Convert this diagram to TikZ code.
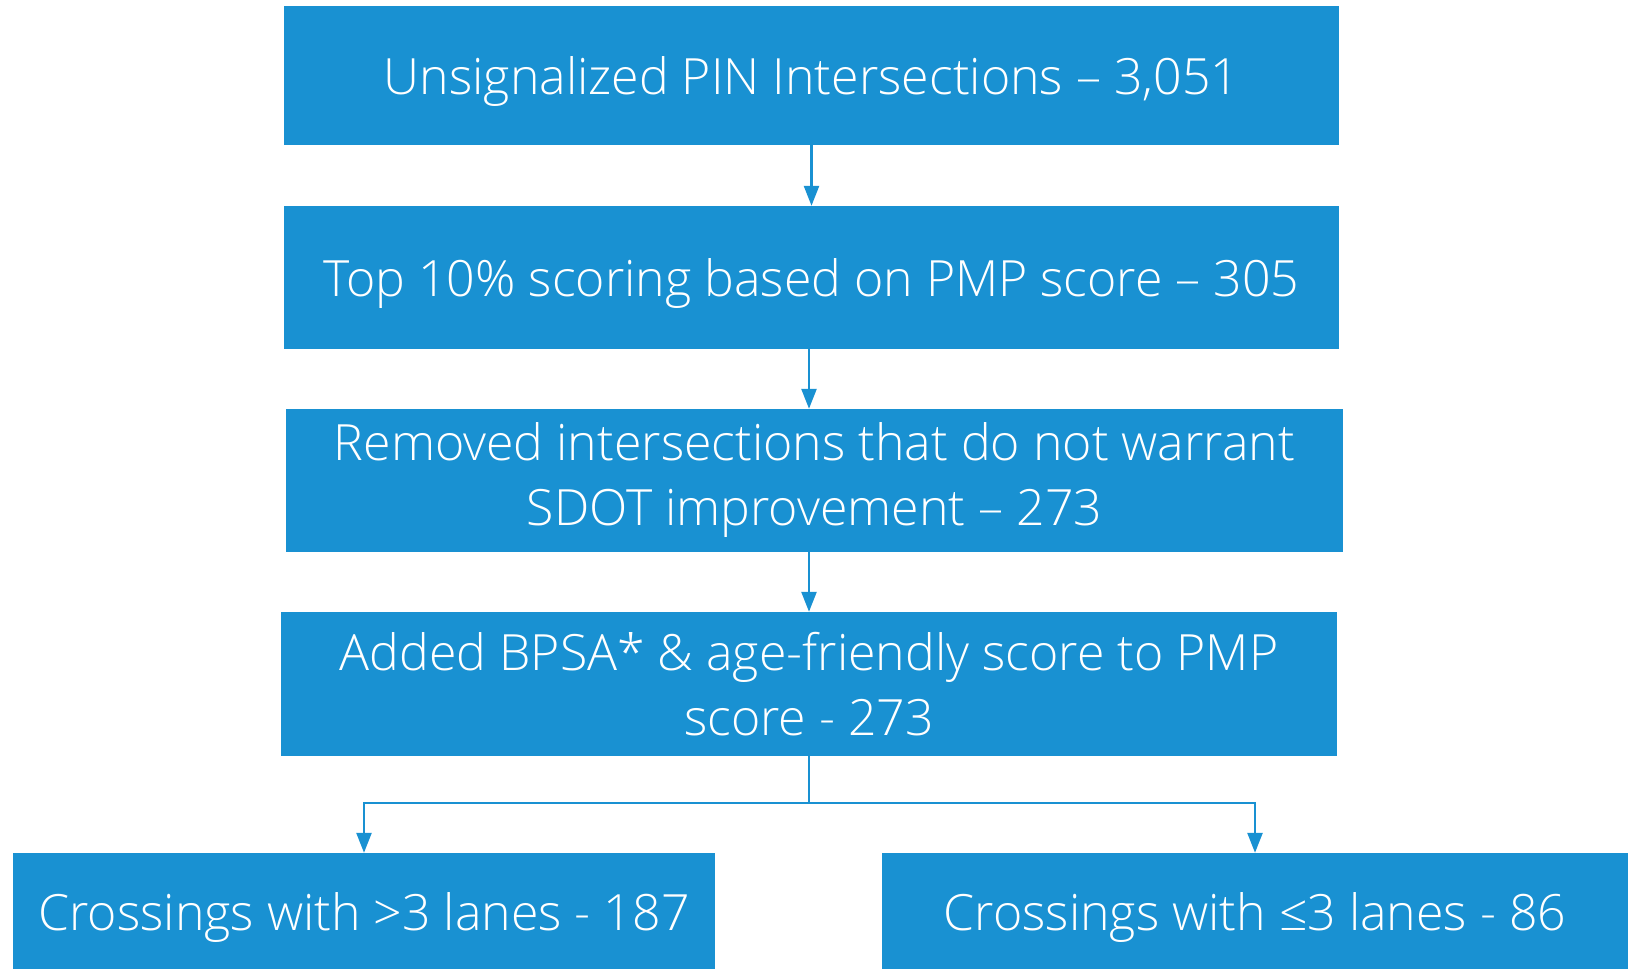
\documentclass[tikz,border=0pt]{standalone}
\usepackage{fontspec}
\IfFontExistsTF{Open Sans Light}{\setmainfont{Open Sans Light}}{\setmainfont{Open Sans}}
\usetikzlibrary{arrows.meta}
\definecolor{boxblue}{RGB}{25,145,210}
\tikzstyle{box} = [rectangle, fill=boxblue, text=white, align=center, inner sep=0pt, font=\fontsize{50}{65}\selectfont, execute at begin node={\rule{0pt}{50pt}}]
\tikzstyle{twoline} = [execute at begin node={\rule{0pt}{58pt}}]
\tikzstyle{arrow} = [line width=2.5pt, draw=boxblue, -{Triangle[width=15pt,length=20pt]}]

\begin{document}
\begin{tikzpicture}[x=1pt,y=-1pt]
            \useasboundingbox (0,0) rectangle (1633,969);
            \node (pin)   [box, minimum width=1055pt, minimum height=139pt] at (811.5,75.5) {Unsignalized PIN Intersections – 3,051};
            \node (top)   [box, minimum width=1055pt, minimum height=143pt] at (811.5,277.5) {Top 10\% scoring based on PMP score – 305};
            \node (rem)   [box, twoline, minimum width=1057pt, minimum height=143pt] at (814.5,480.5) {Removed intersections that do not warrant\\SDOT improvement – 273};
            \node (bpsa)  [box, twoline, minimum width=1056pt, minimum height=144pt] at (809,684) {Added BPSA* \& age-friendly score to PMP\\score - 273};
            \node (wide)  [box, minimum width=702pt, minimum height=116pt] at (364,911) {Crossings with >3 lanes - 187};
            \node (narrow)[box, minimum width=746pt, minimum height=116pt] at (1255,911) {Crossings with ≤3 lanes - 86};
            \coordinate (split) at (809,803);

            \draw [arrow] (pin.south)  -- (pin.south |- top.north);
            \draw [arrow] (top.south -| 809,0) -- (809,0 |- rem.north);
            \draw [arrow] (rem.south -| 809,0) -- (809,0 |- bpsa.north);
            \draw [line width=2.5pt, draw=boxblue] (bpsa.south) -- (split);
            \draw [arrow] (split) -| (wide.north);
            \draw [arrow] (split) -| (narrow.north);
        \end{tikzpicture}
\end{document}
